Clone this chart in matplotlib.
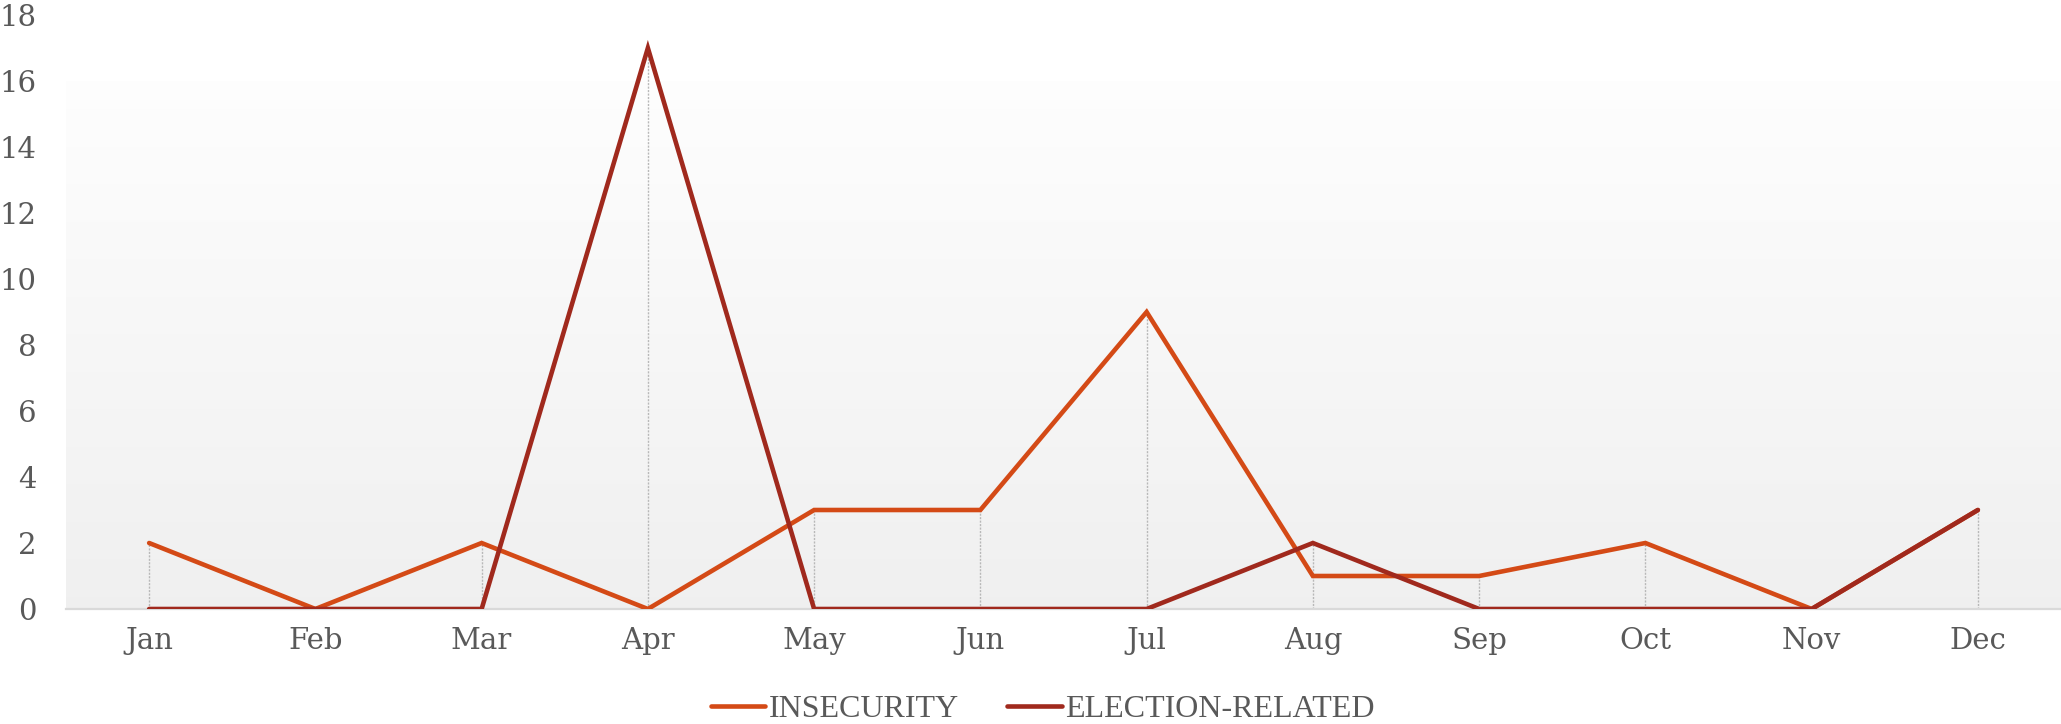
import numpy as np
import matplotlib
matplotlib.use("Agg")
import matplotlib.pyplot as plt
from matplotlib.lines import Line2D
from matplotlib.font_manager import FontProperties

months = ["Jan", "Feb", "Mar", "Apr", "May", "Jun", "Jul", "Aug", "Sep", "Oct", "Nov", "Dec"]
insecurity = [2, 0, 2, 0, 3, 3, 9, 1, 1, 2, 0, 3]
election = [0, 0, 0, 17, 0, 0, 0, 2, 0, 0, 0, 3]
series_names = ["INSECURITY", "ELECTION-RELATED"]
colors = ["#D44A16", "#A0291D"]
yticks = list(range(0, 20, 2))

W, H = 2061, 724
fig = plt.figure(figsize=(W / 100, H / 100), dpi=100)
fig.patch.set_facecolor("white")
x0, x1, y0, y1 = 66, 2061, 609, 15
ax = fig.add_axes([x0 / W, 1 - y0 / H, (x1 - x0) / W, (y0 - y1) / H])
ax.set_facecolor("white")

x = np.arange(len(months)) + 0.5
ax.set_xlim(0, len(months))
ax.set_ylim(0, 18)

# gradient background
grad = np.linspace(0.995, 0.94, 256).reshape(-1, 1)
ax.imshow(np.dstack([grad, grad, grad]), extent=[0, len(months), 0, 16], aspect="auto",
          origin="upper", zorder=0, interpolation="bicubic")

# drop lines
tops = np.maximum(insecurity, election)
ax.vlines(x, 0, tops, colors="#b8b8b8", linestyles=(0, (1.5, 1)), linewidth=1.0, zorder=1)

ax.plot(x, insecurity, color=colors[0], linewidth=3.3, zorder=3, solid_capstyle="round", solid_joinstyle="miter")
ax.plot(x, election, color=colors[1], linewidth=3.3, zorder=4, solid_capstyle="round", solid_joinstyle="miter")

for s in ["top", "right", "left"]:
    ax.spines[s].set_visible(False)
ax.spines["bottom"].set_color("#d9d9d9")
ax.spines["bottom"].set_linewidth(1.6)
ax.spines["bottom"].set_zorder(2)

font = "DejaVu Serif"
ax.set_xticks(x)
ax.set_xticklabels(months, fontsize=21, color="#595959", family=font)
ax.set_yticks(yticks)
ax.set_yticklabels([str(v) for v in yticks], fontsize=21, color="#595959", family=font)
ax.tick_params(axis="both", length=0)
ax.tick_params(axis="x", pad=13)
ax.tick_params(axis="y", pad=21)

handles = [Line2D([0], [0], color=c, linewidth=3.3, solid_capstyle="round") for c in colors]
lp = FontProperties(family="Liberation Serif", size=23)
leg = fig.legend(handles, series_names, loc="center", bbox_to_anchor=(1043 / W, 1 - 709 / H),
                 ncol=2, frameon=False, prop=lp, handlelength=1.7, handletextpad=0.12,
                 columnspacing=1.5, borderaxespad=0)
for t in leg.get_texts():
    t.set_color("#595959")

fig.savefig("out.png", dpi=100, facecolor="white")
